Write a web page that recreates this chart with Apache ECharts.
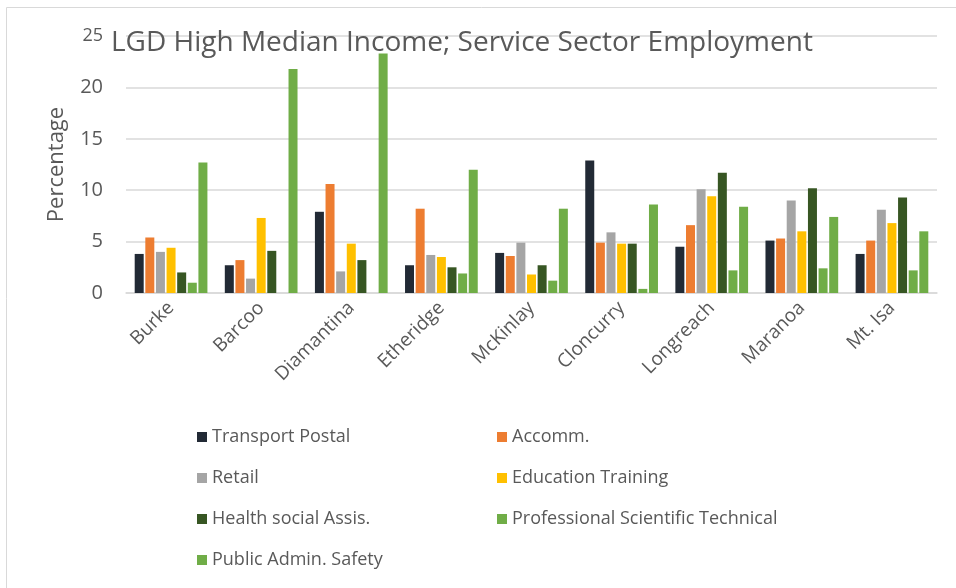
<!DOCTYPE html>
<html>
<head>
<meta charset="utf-8">
<script src="https://cdn.jsdelivr.net/npm/echarts@6/dist/echarts.min.js"></script>
<style>
html,body{margin:0;padding:0;background:#fff;}
#chart{width:956px;height:588px;}
</style>
</head>
<body>
<div id="chart"></div>
<script>
const categories = ['Burke', 'Barcoo', 'Diamantina', 'Etheridge', 'McKinlay', 'Cloncurry', 'Longreach', 'Maranoa', 'Mt. Isa'];
const seriesNames = ['Transport Postal', 'Accomm.', 'Retail', 'Education Training', 'Health social Assis.', 'Professional Scientific Technical', 'Public Admin. Safety'];
const transportPostal = [3.8, 2.7, 7.9, 2.7, 3.9, 12.9, 4.5, 5.1, 3.8];
const accomm = [5.4, 3.2, 10.6, 8.2, 3.6, 4.9, 6.6, 5.3, 5.1];
const retail = [4.0, 1.4, 2.1, 3.7, 4.9, 5.9, 10.1, 9.0, 8.1];
const educationTraining = [4.4, 7.3, 4.8, 3.5, 1.8, 4.8, 9.4, 6.0, 6.8];
const healthSocial = [2.0, 4.1, 3.2, 2.5, 2.7, 4.8, 11.7, 10.2, 9.3];
const professionalScientific = [1.0, 0, 0, 1.9, 1.2, 0.4, 2.2, 2.4, 2.2];
const publicAdmin = [12.7, 21.8, 23.3, 12.0, 8.2, 8.6, 8.4, 7.4, 6.0];
const yTicks = [0, 5, 10, 15, 20, 25];

const seriesData = [transportPostal, accomm, retail, educationTraining, healthSocial, professionalScientific, publicAdmin];
const colors = ['#222A35', '#ED7D31', '#A5A5A5', '#FFC000', '#375623', '#70AD47', '#70AD47'];
const font = 'Open Sans';
const textColor = '#595959';

const chart = echarts.init(document.getElementById('chart'));
const legendCommon = {
  orient: 'vertical',
  icon: 'rect',
  itemWidth: 10,
  itemHeight: 10,
  itemGap: 23,
  textStyle: { fontFamily: font, fontSize: 18, color: textColor }
};
chart.setOption({
  animation: false,
  color: colors,
  title: {
    text: 'LGD High Median Income; Service Sector Employment',
    left: 106,
    top: 24,
    textStyle: { fontFamily: font, fontSize: 28, fontWeight: 'normal', color: textColor }
  },
  graphic: [{
    type: 'rect',
    shape: { x: 6.5, y: 7.5, width: 960, height: 600 },
    style: { fill: 'none', stroke: '#d9d9d9', lineWidth: 1 },
    silent: true
  }],
  legend: [
    Object.assign({ left: 192, top: 423, data: [seriesNames[0], seriesNames[2], seriesNames[4], seriesNames[6]] }, legendCommon),
    Object.assign({ left: 492, top: 423, data: [seriesNames[1], seriesNames[3], seriesNames[5]] }, legendCommon)
  ],
  grid: { left: 126, right: 19, top: 36, bottom: 295, containLabel: false },
  xAxis: {
    type: 'category',
    data: categories,
    axisLine: { lineStyle: { color: '#d9d9d9', width: 1.5 } },
    axisTick: { show: false },
    axisLabel: { rotate: 45, margin: 12, fontFamily: font, fontSize: 19, color: textColor }
  },
  yAxis: {
    type: 'value',
    min: yTicks[0],
    max: yTicks[yTicks.length - 1],
    interval: yTicks[1] - yTicks[0],
    name: 'Percentage',
    nameLocation: 'middle',
    nameRotate: 90,
    nameGap: 58,
    nameTextStyle: { fontFamily: font, fontSize: 22, color: textColor },
    axisLine: { show: false },
    axisTick: { show: false },
    splitLine: { lineStyle: { color: '#d9d9d9', width: 1.5 } },
    axisLabel: {
      margin: 23,
      fontFamily: font,
      fontSize: 20,
      color: textColor,
      formatter: v => v === yTicks[yTicks.length - 1] ? '{s|' + v + '}' : String(v),
      rich: { s: { fontFamily: font, fontSize: 18, color: textColor } }
    }
  },
  series: seriesNames.map((name, i) => ({
    name: name,
    type: 'bar',
    data: seriesData[i],
    barWidth: 9,
    barGap: '18%',
    itemStyle: { color: colors[i] }
  }))
});
</script>
</body>
</html>
